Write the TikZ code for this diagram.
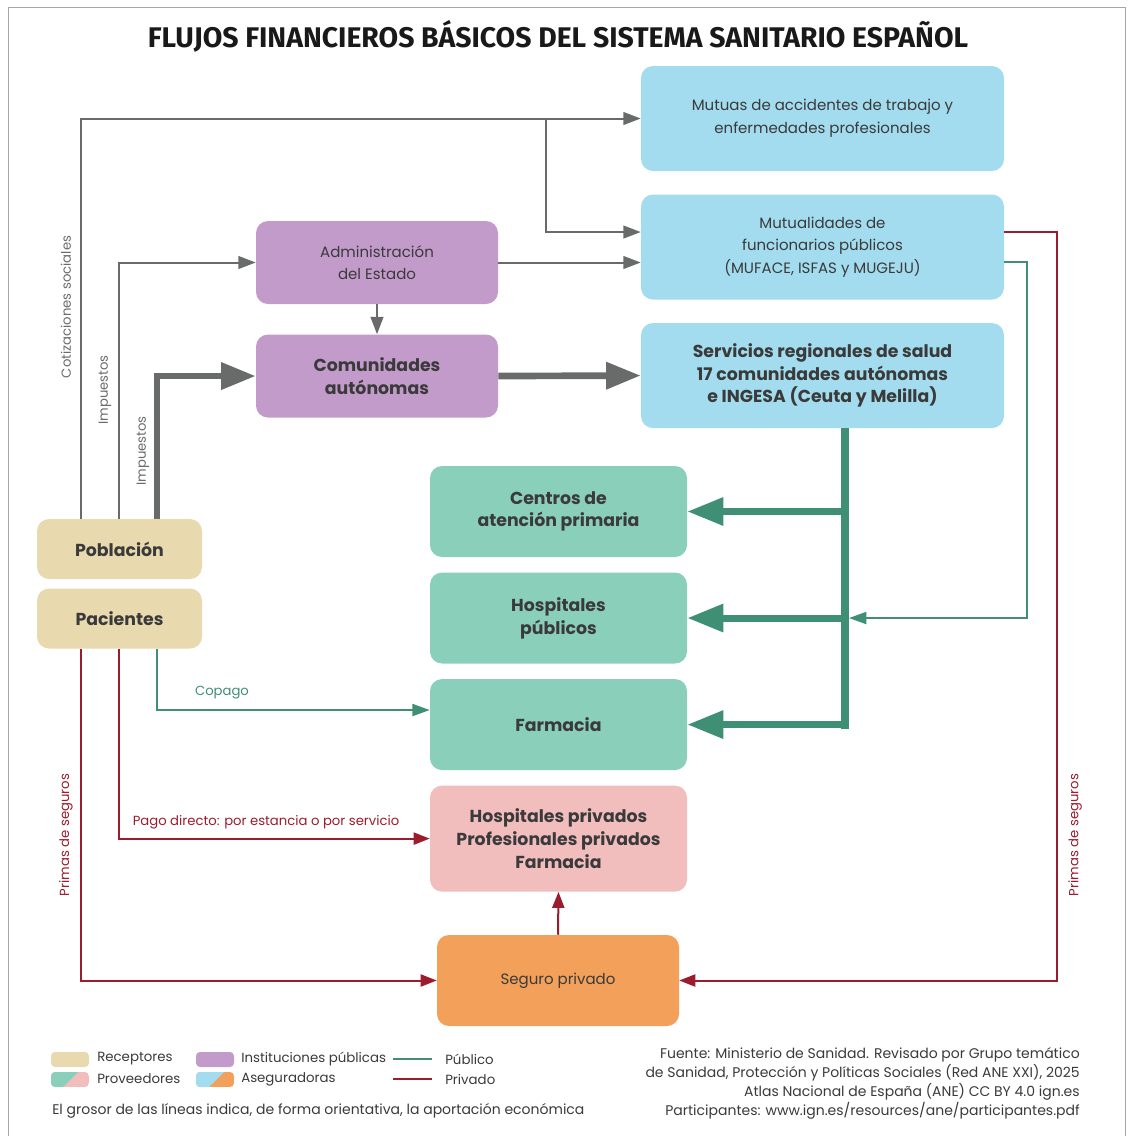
\documentclass[tikz,border=0pt]{standalone}
\usepackage{fontspec}
\setmainfont{Poppins}
\newfontfamily\titlefont{Fira Sans}
\usetikzlibrary{arrows.meta, positioning}

\definecolor{azul}{HTML}{A2DCEE}
\definecolor{malva}{HTML}{C29BCB}
\definecolor{verdeclaro}{HTML}{8ACFBA}
\definecolor{rosa}{HTML}{F2BDBD}
\definecolor{naranja}{HTML}{F2A05A}
\definecolor{crema}{HTML}{E8D9AE}
\definecolor{gris}{HTML}{696B6B}
\definecolor{verde}{HTML}{3F8F74}
\definecolor{rojo}{HTML}{9B1C2C}
\definecolor{texto}{HTML}{3A3A3A}

\begin{document}
\begin{tikzpicture}[
    x=0.75pt, y=-0.75pt,
    node distance=11.25pt,
    box/.style={rounded corners=9pt, align=center, inner sep=0pt, text=texto,
        font=\fontsize{11.25}{17}\selectfont},
    bold box/.style={box, font=\bfseries\fontsize{13}{17}\selectfont},
    aseg/.style={fill=azul, minimum width=272.25pt, minimum height=78.75pt},
    inst/.style={fill=malva, minimum width=181.5pt, minimum height=62.25pt},
    prov/.style={fill=verdeclaro, minimum width=192.75pt, minimum height=68.25pt},
    recep/.style={fill=crema, minimum width=123.75pt, minimum height=45pt},
    gray arrow/.style={draw=gris, line width=1.5pt, -{Triangle[length=13pt,width=9.5pt]}},
    gray thick/.style={draw=gris, line width=5pt, -{Triangle[length=26pt,width=19.5pt]}},
    pub/.style={draw=verde, line width=1.5pt, -{Triangle[length=13pt,width=9pt]}},
    pub thick/.style={draw=verde, line width=5.25pt, -{Triangle[length=27pt,width=20pt]}},
    priv/.style={draw=rojo, line width=1.5pt, -{Triangle[length=12pt,width=9pt]}},
    lbl/.style={inner sep=0pt, font=\fontsize{9.9}{12}\selectfont},
    legend/.style={inner sep=0pt, anchor=west, text=texto, font=\fontsize{10}{12}\selectfont}
]
\useasboundingbox (0,0) rectangle (1129,1136);
\draw[gris!60, line width=0.75pt] (8,1140) -- (8,7) -- (1125,7) -- (1125,1140);

% Title
\node[text=black!90] (titulo) at (558,36)
    {\titlefont\bfseries\fontsize{21.3}{25}\selectfont FLUJOS FINANCIEROS BÁSICOS DEL SISTEMA SANITARIO ESPAÑOL};

% Aseguradoras
\node[box, aseg] (mutuas) at (822.5,118.5) {Mutuas de accidentes de trabajo y\\enfermedades profesionales};
\node[box, aseg, below=17.25pt of mutuas] (mutualidades) {Mutualidades de\\funcionarios públicos\\(MUFACE, ISFAS y MUGEJU)};
\node[bold box, aseg, below=17.25pt of mutualidades] (servicios) {Servicios regionales de salud\\17 comunidades autónomas\\e INGESA (Ceuta y Melilla)};

% Instituciones publicas
\node[box, inst] (admin) at (377,262.5) {Administración\\del Estado};
\node[bold box, inst, below=22.5pt of admin] (comunidades) {Comunidades\\autónomas};

% Proveedores
\node[bold box, prov] (centros) at (558.5,511.5) {Centros de\\atención primaria};
\node[bold box, prov, below=of centros] (hospitales) {Hospitales\\públicos};
\node[bold box, prov, below=of hospitales] (farmacia) {Farmacia};
\node[bold box, prov, fill=rosa, minimum height=79.5pt, below=of farmacia] (privados)
    {Hospitales privados\\Profesionales privados\\Farmacia};
\node[box, fill=naranja, minimum width=181.5pt, minimum height=68.25pt] (seguro) at (558,980.5) {Seguro privado};

% Receptores
\node[bold box, recep] (poblacion) at (119.5,549) {Población};
\node[bold box, recep, below=6.75pt of poblacion] (pacientes) {Pacientes};

% vertical lines
\coordinate (c1) at (81,0);
\coordinate (c2) at (119,0);
\coordinate (c3) at (157,0);
\coordinate (cbr) at (546,0);
\coordinate (ctr) at (845,0);
\coordinate (cg) at (1027,0);
\coordinate (cr) at (1057,0);

% Publico
\draw[gray arrow] (poblacion.north -| c1) |- (mutuas.west);
\draw[gray arrow] (mutuas.west -| cbr) |- ([yshift=11.25pt]mutualidades.west);
\draw[gray arrow] (poblacion.north -| c2) |- (admin.west);
\draw[gray thick] (poblacion.north -| c3) |- (comunidades.west);
\draw[gray arrow] (admin.east) -- (admin.east -| mutualidades.west);
\draw[gray arrow] (admin.south) -- (comunidades.north);
\draw[gray thick] (comunidades.east) -- (servicios.west);

\draw[verde, line width=6pt] (servicios.south -| ctr) -- ([yshift=-3pt]farmacia.east -| ctr);
\foreach \n in {centros, hospitales, farmacia}
    \draw[pub thick] (\n.east -| ctr) -- (\n.east);
\draw[pub] ([yshift=-11.25pt]mutualidades.east) -| (hospitales.east -| cg) -- ([xshift=3pt]hospitales.east -| ctr);
\draw[pub] (pacientes.south -| c3) |- ([yshift=10.9pt]farmacia.west);

% Privado
\draw[priv] ([yshift=11.25pt]mutualidades.east) -| (seguro.east -| cr) -- (seguro.east);
\draw[priv] (pacientes.south -| c1) |- (seguro.west);
\draw[priv] (pacientes.south -| c2) |- (privados.west);
\draw[priv] (seguro.north) -- (privados.south);

% Labels
\node[lbl, text=gris, rotate=90] (cotiz) at (66,307) {Cotizaciones sociales};
\node[lbl, text=gris, rotate=90] (imp1) at (105,390) {Impuestos};
\node[lbl, text=gris, rotate=90] (imp2) at (143,451) {Impuestos};
\node[lbl, text=verde] (copago) at (222,693) {Copago};
\node[lbl, text=rojo] (pago) at (266,822) {Pago directo: por estancia o por servicio};
\node[lbl, text=rojo, rotate=90] (primas1) at (66,835) {Primas de seguros};
\node[lbl, text=rojo, rotate=90] (primas2) at (1075,835) {Primas de seguros};

% Legend
\fill[crema, rounded corners=3pt] (51,1052) rectangle (89,1067);
\begin{scope}
  \clip[rounded corners=3pt] (51,1072) rectangle (89,1087);
  \fill[rosa] (51,1072) rectangle (89,1087);
  \fill[verdeclaro] (51,1072) -- (78,1072) -- (63,1087) -- (51,1087) -- cycle;
\end{scope}
\fill[malva, rounded corners=3pt] (196,1052) rectangle (234,1067);
\begin{scope}
  \clip[rounded corners=3pt] (196,1072) rectangle (234,1087);
  \fill[naranja] (196,1072) rectangle (234,1087);
  \fill[azul] (196,1072) -- (224,1072) -- (209,1087) -- (196,1087) -- cycle;
\end{scope}
\draw[verde, line width=1.5pt] (393,1059) -- (432,1059);
\draw[rojo, line width=1.5pt] (393,1079) -- (432,1079);
\node[legend] (l-recep) at (97,1059) {Receptores};
\node[legend] (l-prov) at (97,1079) {Proveedores};
\node[legend] (l-inst) at (241,1059) {Instituciones públicas};
\node[legend] (l-aseg) at (241,1079) {Aseguradoras};
\node[legend] (l-pub) at (445,1059) {Público};
\node[legend] (l-priv) at (445,1079) {Privado};
\node[legend, font=\fontsize{10.5}{12}\selectfont] (nota) at (52,1111) {El grosor de las líneas indica, de forma orientativa, la aportación económica};

% Source
\node[inner sep=0pt, anchor=north east, align=right, text=texto, font=\fontsize{10.5}{14.25}\selectfont] (fuente) at (1080,1047)
    {Fuente: Ministerio de Sanidad. Revisado por Grupo temático\\
     de Sanidad, Protección y Políticas Sociales (Red ANE XXI), 2025\\
     Atlas Nacional de España (ANE) CC BY 4.0 ign.es\\
     Participantes: www.ign.es/resources/ane/participantes.pdf};
\end{tikzpicture}
\end{document}
